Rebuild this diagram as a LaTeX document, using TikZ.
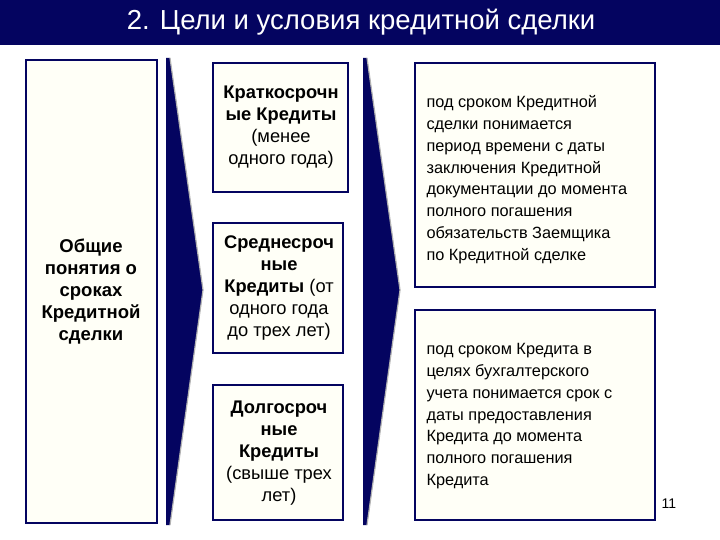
\documentclass[tikz,border=0pt]{standalone}
\usepackage{fontspec}
\setmainfont{Liberation Sans}
\definecolor{navy}{RGB}{4,4,96}
\definecolor{cream}{RGB}{255,255,247}
\begin{document}
\begin{tikzpicture}[x=1pt,y=-1pt,
  box/.style={draw=navy,line width=1.5pt,fill=cream,align=center,inner sep=0pt},
  txt/.style={font=\fontsize{18.3}{22}\selectfont,align=center,text=black},
  ltxt/.style={font=\fontsize{16.3}{21.8}\selectfont,align=left,text=black}]
\useasboundingbox (0,0) rectangle (720,540);
\fill[white] (0,0) rectangle (720,540);
\fill[navy] (0,0) rectangle (720,45);
\node[text=white,font=\fontsize{27.5}{30}\selectfont] (title) at (361,22) {2. Цели и условия кредитной сделки};
% boxes
\draw[box] (26,60) rectangle (157,523);
\node[txt,font=\bfseries\fontsize{18.5}{22}\selectfont] (gen) at (91,292) {Общие\\понятия о\\сроках\\Кредитной\\сделки};
\draw[box] (213,63) rectangle (348,192);
\node[txt] (k1) at (281,127) {\textbf{Краткосрочн}\\\textbf{ые Кредиты}\\(менее\\одного года)};
\draw[box] (213,223) rectangle (343,353);
\node[txt] (k2) at (279,288) {\textbf{Среднесроч}\\\textbf{ные}\\\textbf{Кредиты} (от\\одного года\\до трех лет)};
\draw[box] (213,385) rectangle (343,520);
\node[txt] (k3) at (279,453) {\textbf{Долгосроч}\\\textbf{ные}\\\textbf{Кредиты}\\(свыше трех\\лет)};
\draw[box] (415,63) rectangle (655,287);
\node[ltxt,anchor=north west] (d1) at (423,92) {под сроком Кредитной\\сделки понимается\\период времени с даты\\заключения Кредитной\\документации до момента\\полного погашения\\обязательств Заемщика\\по Кредитной сделке};
\draw[box] (415,310) rectangle (655,520);
\node[ltxt,anchor=north west] (d2) at (423,340) {под сроком Кредита в\\целях бухгалтерского\\учета понимается срок с\\даты предоставления\\Кредита до момента\\полного погашения\\Кредита};
% chevrons
\fill[navy] (166,58) -- (170,58) -- (203,290) -- (170,525) -- (166,525) -- cycle;
\draw[gray!60,line width=1.2pt] (170,58) -- (203,290) -- (170,525);
\fill[navy] (363,58) -- (367,58) -- (400,290) -- (367,525) -- (363,525) -- cycle;
\draw[gray!60,line width=1.2pt] (367,58) -- (400,290) -- (367,525);
\node[font=\fontsize{14}{16}\selectfont] (pg) at (669,504) {11};
\end{tikzpicture}
\end{document}
